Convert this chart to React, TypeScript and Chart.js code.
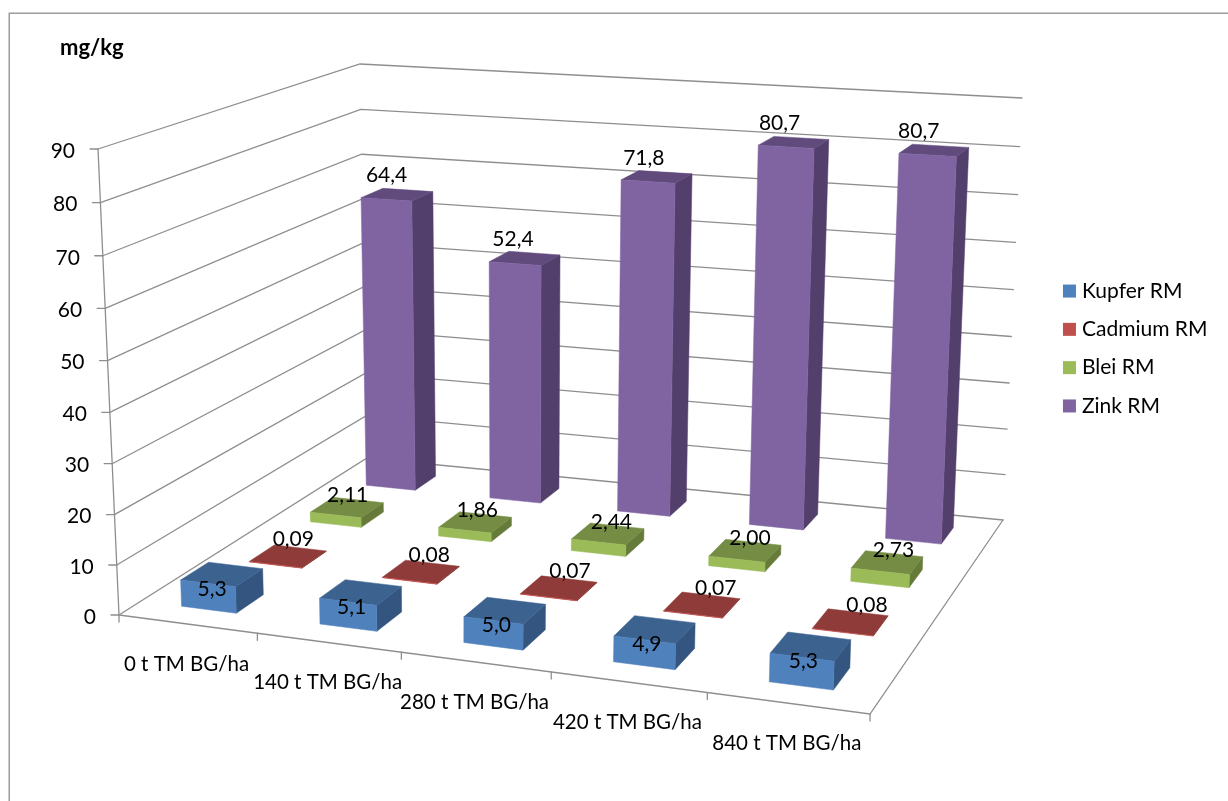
import { useEffect, useRef } from "react";
import { Chart, registerables } from "chart.js";

Chart.register(...registerables);

const categories = ["0 t TM BG/ha", "140 t TM BG/ha", "280 t TM BG/ha", "420 t TM BG/ha", "840 t TM BG/ha"];
const seriesNames = ["Kupfer RM", "Cadmium RM", "Blei RM", "Zink RM"];
const kupfer = [5.3, 5.1, 5.0, 4.9, 5.3];
const cadmium = [0.09, 0.08, 0.07, 0.07, 0.08];
const blei = [2.11, 1.86, 2.44, 2.0, 2.73];
const zink = [64.4, 52.4, 71.8, 80.7, 80.7];
const decimals = [1, 2, 2, 1];

const frontColors = ["#4F81BD", "#C0504D", "#9BBB59", "#8064A2"];
const topColors = ["#3C6290", "#8F3B39", "#748C43", "#604B7C"];
const sideColors = ["#33557F", "#7F3432", "#667B3A", "#533F6C"];

// Offset of each value label from the centre of its bar's top face: [dx at left, dx at right, dy]
const labelOffsets = [
  [-10, -7, 15],
  [4, 18, -17],
  [0, 7, -12],
  [-10, -16, -19],
];

const FAMILY = "Lato, Carlito, sans-serif";
const FONT = `21px ${FAMILY}`;
const INK = "#000000";
const GRID = "#8E8E8E";
const BAR_FRACTION = 0.4;
const SWATCH = 13;

type Pt = [number, number];

// Corners of the plot box on the canvas, used by the perspective projection
const floorCorners: Pt[] = [[119, 615], [870, 714], [1003, 520], [367, 458]];
const ceilingCorners: Pt[] = [[98, 149], [887, 195], [1022, 98], [360, 64]];

// Homography taking the unit square onto a quadrilateral
function squareToQuad(q: Pt[]) {
  const [[x0, y0], [x1, y1], [x2, y2], [x3, y3]] = q;
  const dx1 = x1 - x2, dx2 = x3 - x2, sx = x0 - x1 + x2 - x3;
  const dy1 = y1 - y2, dy2 = y3 - y2, sy = y0 - y1 + y2 - y3;
  const den = dx1 * dy2 - dx2 * dy1;
  const g = (sx * dy2 - dx2 * sy) / den;
  const h = (dx1 * sy - sx * dy1) / den;
  const a = x1 - x0 + g * x1, b = x3 - x0 + h * x3, c = x0;
  const d = y1 - y0 + g * y1, e = y3 - y0 + h * y3, f = y0;
  return (u: number, v: number): Pt => {
    const w = g * u + h * v + 1;
    return [(a * u + b * v + c) / w, (d * u + e * v + f) / w];
  };
}

const floorMap = squareToQuad(floorCorners);
const ceilingMap = squareToQuad(ceilingCorners);

function project(u: number, depth: number, height: number): Pt {
  // Adjust the horizontal foreshortening and add the slight vertical one
  const bend = u * (1 - u);
  const t = height / (height + 1.04 * (1 - height));
  const a = floorMap(u + 0.032 * bend, depth);
  const b = ceilingMap(u - 0.025 * bend, depth);
  return [a[0] + (b[0] - a[0]) * t, a[1] + (b[1] - a[1]) * t];
}

function polyline(ctx: CanvasRenderingContext2D, pts: Pt[]) {
  ctx.beginPath();
  pts.forEach((p, i) => (i ? ctx.lineTo(p[0], p[1]) : ctx.moveTo(p[0], p[1])));
}

function fillFace(ctx: CanvasRenderingContext2D, pts: Pt[], color: string) {
  polyline(ctx, pts);
  ctx.closePath();
  ctx.fillStyle = color;
  ctx.strokeStyle = color;
  ctx.lineWidth = 0.5;
  ctx.fill();
  ctx.stroke();
}

const uOf = (chart: any, i: number) => {
  const s = chart.scales.x;
  return (s.getPixelForValue(i) - s.left) / s.width;
};
const depthOf = (chart: any, k: number) => {
  const s = chart.scales.z;
  return (s.getPixelForValue(k) - s.left) / s.width;
};
const heightOf = (chart: any, v: number) => {
  const s = chart.scales.y;
  return s.getDecimalForPixel(s.getPixelForValue(v));
};

// Draws the walls, the floor, both axes and the fixed captions behind the bars
const boxPlugin = {
  id: "box3d",
  beforeDatasetsDraw(chart: any) {
    const { ctx, scales } = chart;
    ctx.save();

    ctx.strokeStyle = "#9C9C9C";
    ctx.lineWidth = 1.5;
    polyline(ctx, [[9.25, 801], [9.25, 13.25], [1228, 13.25]]);
    ctx.stroke();

    ctx.lineCap = "round";
    ctx.strokeStyle = GRID;
    ctx.lineWidth = 1.3;
    for (const t of scales.y.ticks) {
      const h = heightOf(chart, t.value);
      polyline(ctx, [project(0, 0, h), project(0, 1, h), project(1, 1, h)]);
      ctx.stroke();
      const a = project(0, 0, h);
      polyline(ctx, [a, [a[0] - 8, a[1]]]);
      ctx.stroke();
    }
    polyline(ctx, [project(0, 0, 0), project(0, 0, 1)]);
    ctx.stroke();
    polyline(ctx, [project(0, 0, 0), project(1, 0, 0), project(1, 1, 0)]);
    ctx.stroke();
    for (let i = 0; i <= categories.length; i++) {
      const a = project(i / categories.length, 0, 0);
      polyline(ctx, [a, [a[0], a[1] + 7]]);
      ctx.stroke();
    }

    ctx.fillStyle = INK;
    ctx.font = FONT;
    ctx.textBaseline = "middle";
    ctx.textAlign = "right";
    for (const t of scales.y.ticks) {
      const a = project(0, 0, heightOf(chart, t.value));
      ctx.fillText(String(t.value), a[0] - 23, a[1] + 2);
    }
    ctx.textAlign = "center";
    ctx.font = `20.5px ${FAMILY}`;
    categories.forEach((label, i) => {
      const a = project(uOf(chart, i), 0, 0);
      ctx.fillText(label, a[0] - 1, a[1] + 40);
    });
    ctx.textAlign = "left";
    ctx.font = `bold 22px ${FAMILY}`;
    ctx.fillText("mg/kg", 60, 48);
    ctx.restore();
  },
  // Replaces the flat bars with boxes standing on the floor
  beforeDatasetDraw(chart: any, args: any) {
    const { ctx } = chart;
    const k = args.index;
    const meta = chart.getDatasetMeta(k);
    const du = (BAR_FRACTION / 2) / categories.length;
    const dd = (BAR_FRACTION / 2) / seriesNames.length;
    const d0 = depthOf(chart, k) - dd;
    const d1 = depthOf(chart, k) + dd;
    ctx.save();
    meta.data.forEach((_: any, i: number) => {
      const u0 = uOf(chart, i) - du;
      const u1 = uOf(chart, i) + du;
      const h = heightOf(chart, meta.controller.getParsed(i).y);
      fillFace(ctx, [project(u1, d0, 0), project(u1, d1, 0), project(u1, d1, h), project(u1, d0, h)], sideColors[k]);
      fillFace(ctx, [project(u0, d0, h), project(u1, d0, h), project(u1, d1, h), project(u0, d1, h)], topColors[k]);
      fillFace(ctx, [project(u0, d0, 0), project(u1, d0, 0), project(u1, d0, h), project(u0, d0, h)], frontColors[k]);
    });
    ctx.restore();
    return false;
  },
  afterDatasetsDraw(chart: any) {
    const { ctx } = chart;
    ctx.save();
    ctx.fillStyle = INK;
    ctx.font = FONT;
    ctx.textAlign = "center";
    ctx.textBaseline = "middle";
    chart.data.datasets.forEach((ds: any, k: number) => {
      const [left, right, dy] = labelOffsets[k];
      ds.data.forEach((v: number, i: number) => {
        const u = uOf(chart, i);
        const c = project(u, depthOf(chart, k), heightOf(chart, v));
        const text = v.toFixed(decimals[k]).replace(".", ",");
        ctx.fillText(text, c[0] + left + (right - left) * u, c[1] + dy);
      });
    });
    ctx.restore();
  },
  // Legend swatches sit closer to their text than the built-in gap allows
  afterDraw(chart: any) {
    const { ctx, legend } = chart;
    ctx.save();
    legend.legendItems.forEach((item: any, i: number) => {
      const hit = legend.legendHitBoxes[i];
      ctx.fillStyle = item.fillStyle;
      ctx.fillRect(hit.left - 8.5, hit.top + (hit.height - SWATCH) / 2, SWATCH, SWATCH);
    });
    ctx.restore();
  },
};

export default function App() {
  const ref = useRef<HTMLCanvasElement | null>(null);

  useEffect(() => {
    const values = [kupfer, cadmium, blei, zink];
    const chart = new Chart(ref.current as HTMLCanvasElement, {
      type: "bar",
      data: {
        labels: categories,
        datasets: seriesNames.map((label, k) => ({
          label,
          data: values[k],
          backgroundColor: frontColors[k],
        })),
      },
      options: {
        responsive: false,
        animation: false,
        layout: { padding: { right: 10.5, bottom: 104 } },
        scales: {
          x: { display: false },
          z: { type: "category", axis: "x", labels: seriesNames, offset: true, display: false },
          y: { display: false, min: 0, max: 90, ticks: { stepSize: 10 } },
        },
        plugins: {
          title: { display: false },
          tooltip: { enabled: false },
          legend: {
            position: "right",
            labels: {
              boxWidth: 0,
              boxHeight: SWATCH,
              padding: 17.3,
              color: INK,
              font: { family: FAMILY, size: 21 },
            },
          },
        },
      },
      plugins: [boxPlugin],
    } as any);
    return () => chart.destroy();
  }, []);

  return (
    <div style={{ position: "fixed", left: 0, top: 0, width: 1228, height: 801, background: "#fff" }}>
      <canvas ref={ref} width={1228} height={801} style={{ display: "block" }} />
    </div>
  );
}
